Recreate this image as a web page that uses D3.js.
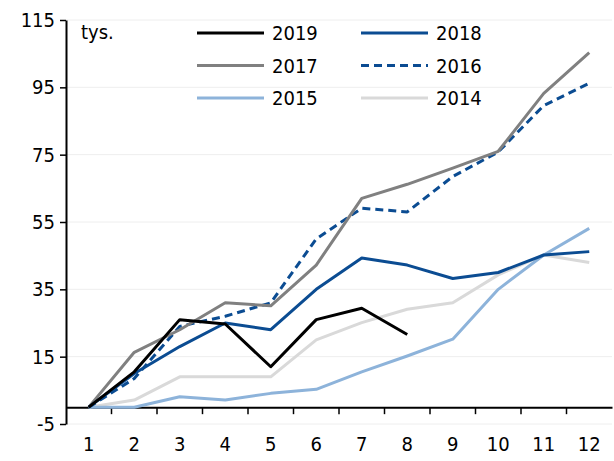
<!DOCTYPE html>
<html>
<head>
<meta charset="utf-8">
<script src="https://cdn.jsdelivr.net/npm/d3@7"></script>
<style>
body { margin: 0; background: #fff; }
svg text { font-family: "DejaVu Sans Condensed", "Liberation Sans Narrow", sans-serif; fill: #000; }
</style>
</head>
<body>
<svg id="chart" width="614" height="461"></svg>
<script>
// months
var months = [1, 2, 3, 4, 5, 6, 7, 8, 9, 10, 11, 12];
var yTicks = [-5, 15, 35, 55, 75, 95, 115];

// cumulative values, thousands
var y2019 = [0, 10.5, 26, 24.7, 12, 26, 29.4, 21.6];
var y2018 = [0, 10, 18, 25, 23, 35, 44.3, 42.2, 38.2, 40, 45.2, 46.2];
var y2017 = [0, 16.3, 23, 31, 30.1, 42.2, 62, 66.2, 71, 76, 93.2, 105.3];
var y2016 = [0, 8.5, 24, 27, 31, 50, 59.1, 58, 68.5, 75.8, 89.6, 96.2];
var y2015 = [0, 0, 3.1, 2.1, 4.1, 5.3, 10.5, 15.2, 20.2, 35, 45.2, 53.1];
var y2014 = [0, 2.1, 9, 9, 9, 20, 25.1, 29.1, 31, 39.3, 45.2, 43];

var series = [
	{ name: "2014", values: y2014, color: "#d9d9d9", dash: null },
	{ name: "2015", values: y2015, color: "#8db3da", dash: null },
	{ name: "2016", values: y2016, color: "#0b4c92", dash: "8,5" },
	{ name: "2017", values: y2017, color: "#808080", dash: null },
	{ name: "2018", values: y2018, color: "#0b4c92", dash: null },
	{ name: "2019", values: y2019, color: "#000000", dash: null }
];
var legendOrder = ["2019", "2018", "2017", "2016", "2015", "2014"];

var svg = d3.select("#chart");
var mLeft = 66, mRight = 612, mTop = 20, mBottom = 424;

var x = d3.scaleBand().domain(months).range([mLeft, mRight]);
var y = d3.scaleLinear().domain([-5, 115]).range([mBottom, mTop]);

// grid
svg.append("g").selectAll("line")
	.data(yTicks)
	.enter().append("line")
	.attr("x1", mLeft).attr("x2", mRight)
	.attr("y1", function(d) { return y(d); })
	.attr("y2", function(d) { return y(d); })
	.attr("stroke", "#eeeeee")
	.attr("stroke-width", 1);

// y axis
var yAxis = svg.append("g")
	.attr("transform", "translate(" + mLeft + ",0)")
	.call(d3.axisLeft(y).tickValues(yTicks).tickSize(6).tickSizeOuter(0).tickPadding(5)
		.tickFormat(function(d) { return String(d); }));
yAxis.select(".domain").attr("stroke", "#000").attr("stroke-width", 2);
yAxis.selectAll(".tick line").attr("stroke", "#000").attr("stroke-width", 1.5);
yAxis.selectAll("text").style("font-size", "20px");

// x axis at zero
var xAxis = svg.append("g")
	.attr("transform", "translate(0," + y(0) + ")")
	.call(d3.axisBottom(x).tickSize(0).tickSizeOuter(0).tickPadding(30));
xAxis.select(".domain").attr("stroke", "#000").attr("stroke-width", 2);
xAxis.selectAll("text").style("font-size", "20px");
xAxis.selectAll(".sep")
	.data(months.slice(1))
	.enter().append("line")
	.attr("x1", function(d) { return x(d); })
	.attr("x2", function(d) { return x(d); })
	.attr("y1", 0).attr("y2", 7)
	.attr("stroke", "#000").attr("stroke-width", 1.5);

svg.append("text")
	.attr("x", 81).attr("y", 39)
	.style("font-size", "20px")
	.text("tys.");

// lines
var line = d3.line()
	.x(function(d, i) { return x(months[i]) + x.bandwidth() / 2; })
	.y(function(d) { return y(d); });

svg.append("g").selectAll("path")
	.data(series)
	.enter().append("path")
	.attr("d", function(d) { return line(d.values); })
	.attr("fill", "none")
	.attr("stroke", function(d) { return d.color; })
	.attr("stroke-width", 3)
	.attr("stroke-dasharray", function(d) { return d.dash; })
	.attr("stroke-linejoin", "round");

// legend
var legend = svg.append("g").selectAll("g")
	.data(legendOrder)
	.enter().append("g")
	.attr("transform", function(d, i) {
		return "translate(" + (i % 2 === 0 ? 197 : 361) + "," + (33 + Math.floor(i / 2) * 32.5) + ")";
	});

legend.append("line")
	.attr("x1", 0).attr("x2", 67)
	.attr("stroke", function(d) { return series.find(function(s) { return s.name === d; }).color; })
	.attr("stroke-dasharray", function(d) { return series.find(function(s) { return s.name === d; }).dash; })
	.attr("stroke-width", 3);

legend.append("text")
	.attr("x", 75).attr("y", 7)
	.style("font-size", "20px")
	.text(function(d) { return d; });
</script>
</body>
</html>
